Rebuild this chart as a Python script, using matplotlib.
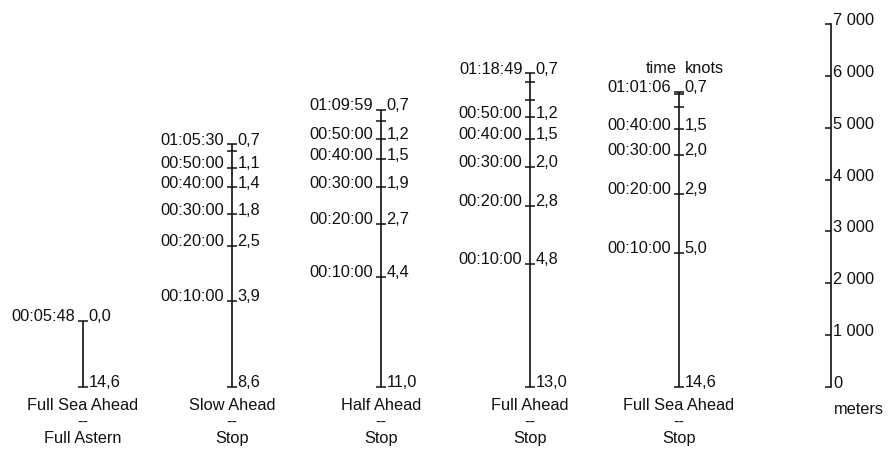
import matplotlib.pyplot as plt

plt.rcParams['font.family'] = ['Liberation Sans', 'DejaVu Sans']
plt.rcParams['font.size'] = 11.8

# manoeuvre names (shown under each line)
manoeuvres = [
    "Full Sea Ahead\n--\nFull Astern",
    "Slow Ahead\n--\nStop",
    "Half Ahead\n--\nStop",
    "Full Ahead\n--\nStop",
    "Full Sea Ahead\n--\nStop",
]
initial_speed = ["14,6", "8,6", "11,0", "13,0", "14,6"]
stop_time = ["00:05:48", "01:05:30", "01:09:59", "01:18:49", "01:01:06"]
stop_speed = ["0,0", "0,7", "0,7", "0,7", "0,7"]
stop_distance = [1270, 4680, 5340, 6050, 5690]  # meters

# distance run (m) after every 10 minutes
dist_10min = [
    [],
    [1660, 2720, 3330, 3850, 4220, 4550],
    [2120, 3140, 3850, 4390, 4780, 5130],
    [2370, 3490, 4240, 4780, 5200, 5530, 5880],
    [2580, 3720, 4470, 4970, 5400, 5650],
]
# speed (knots) at those marks, None = tick without label
speed_10min = [
    [],
    ["3,9", "2,5", "1,8", "1,4", "1,1", None],
    ["4,4", "2,7", "1,9", "1,5", "1,2", None],
    ["4,8", "2,8", "2,0", "1,5", "1,2", None, None],
    ["5,0", "2,9", "2,0", "1,5", None, None],
]

meter_ticks = [0, 1000, 2000, 3000, 4000, 5000, 6000, 7000]

ink = "#111111"
scale_x = 5.02

fig = plt.figure(figsize=(8.89, 4.52), dpi=100)
ax = fig.add_axes([0, 0, 1, 1])
ax.set_xlim(-0.557, 5.409)
ax.set_ylim(-1234, 7481)

for i, name in enumerate(manoeuvres):
    ax.vlines(i, 0, stop_distance[i], color=ink, lw=1.2)
    marks = [0] + dist_10min[i] + [stop_distance[i]]
    ax.plot([i] * len(marks), marks, ls="none", marker="_", ms=6.5, mew=1.1, color=ink)

    def label(y, left, right):
        if left:
            ax.annotate(left, (i, y), xytext=(-5.5, 0.5), textcoords="offset points",
                        ha="right", va="baseline", color=ink)
        if right:
            ax.annotate(right, (i, y), xytext=(4.0, 0.5), textcoords="offset points",
                        ha="left", va="baseline", color=ink)

    label(0, None, initial_speed[i])
    for k, (d, s) in enumerate(zip(dist_10min[i], speed_10min[i])):
        if s is not None:
            label(d, "00:%02d:00" % (10 * (k + 1)), s)
    label(stop_distance[i], stop_time[i], stop_speed[i])

    ax.annotate(name, (i, 0), xytext=(0, -7), textcoords="offset points",
                ha="center", va="top", linespacing=1.15, color=ink)

# header over the last line
ax.annotate("time", (4, stop_distance[4]), xytext=(-1.5, 14), textcoords="offset points",
            ha="right", va="baseline", color=ink)
ax.annotate("knots", (4, stop_distance[4]), xytext=(4.0, 14), textcoords="offset points",
            ha="left", va="baseline", color=ink)

# meter scale
for side in ["left", "top", "bottom"]:
    ax.spines[side].set_visible(False)
ax.spines["right"].set_position(("data", scale_x))
ax.spines["right"].set_bounds(0, 7000)
ax.spines["right"].set_color(ink)
ax.spines["right"].set_linewidth(1.2)
ax.set_xticks([])
ax.yaxis.set_ticks_position("right")
ax.set_yticks(meter_ticks, ["{:,}".format(m).replace(",", " ") for m in meter_ticks])
ax.tick_params(axis="y", direction="in", length=4, width=1.1, pad=1.5, colors=ink)
for t in ax.get_yticklabels():
    t.set_verticalalignment("baseline")
ax.annotate("meters", (scale_x, 0), xytext=(2, -10), textcoords="offset points",
            ha="left", va="top", color=ink)

fig.savefig("out.png", dpi=100)
